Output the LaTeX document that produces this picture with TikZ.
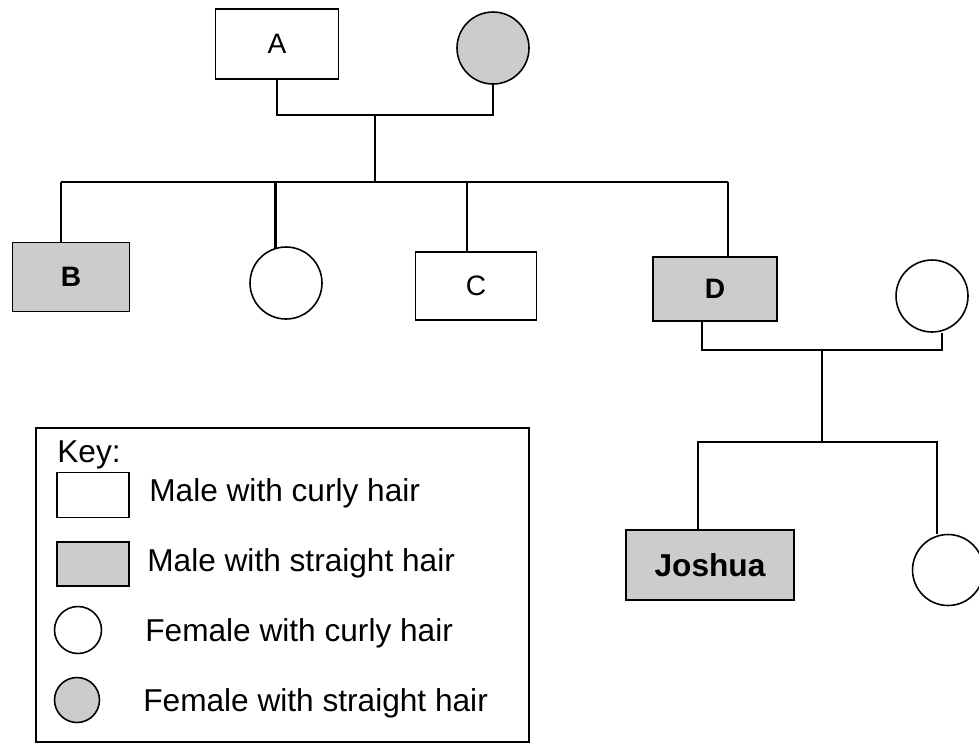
\documentclass[tikz,border=0pt]{standalone}
\usepackage{fontspec}
\setmainfont{Liberation Sans}
\usetikzlibrary{calc}
\tikzset{
  male/.style={rectangle,draw,line width=0.9pt,inner sep=0pt,font=\fontsize{16}{19}\selectfont},
  female/.style={circle,draw,line width=0.9pt,inner sep=0pt},
  shaded/.style={fill=black!20,font=\fontsize{16}{19}\selectfont\bfseries},
  link/.style={line width=1.5pt},
  keytxt/.style={anchor=west,inner sep=0pt,font=\fontsize{18}{21}\selectfont}
}

\begin{document}
\begin{tikzpicture}[x=0.02cm,y=-0.02cm]
\useasboundingbox (0,0) rectangle (979,751);
% first generation
\node[male,minimum width=2.46cm,minimum height=1.4cm] (A) at (277,44) {A};
\node[female,shaded,minimum size=1.44cm] (fA) at (493,48) {};
\coordinate (m1) at (375,115);
\coordinate (bL) at (61,182);
\coordinate (bR) at (728,182);
% children
\node[male,shaded,minimum width=2.34cm,minimum height=1.38cm] (B) at (71,277) {B};
\node[female,minimum size=1.44cm] (f2) at (286,283) {};
\node[male,minimum width=2.42cm,minimum height=1.36cm] (C) at (476,286) {C};
\node[male,shaded,minimum width=2.48cm,minimum height=1.28cm] (D) at (715,289) {D};
\node[female,minimum size=1.44cm] (f3) at (932,296) {};
\coordinate (m2) at (822,350);
\coordinate (m3) at (822,442);
% grandchildren
\node[male,shaded,minimum width=3.36cm,minimum height=1.4cm,font=\fontsize{18}{21}\selectfont\bfseries] (J) at (710,565) {Joshua};
\node[female,minimum size=1.42cm] (f4) at (948,570) {};

\draw[link] (A.south) |- (m1) -| (fA.south);
\draw[link] (m1) -- (m1 |- bL);
\draw[link] (bL) -- (bR);
\draw[link] (bL) -- (bL |- B.north);
\draw[link] (bR) -- (bR |- D.north);
\draw[link] (f2.107 |- bL) -- (f2.107);
\draw[link] ([xshift=-0.18cm]C.north |- bL) -- ([xshift=-0.18cm]C.north);
\draw[link] ([xshift=-0.26cm]D.south) |- (m2) -| ([xshift=0.2cm]f3.south);
\draw[link] (m2) -- (m3);
\draw[link] ([xshift=-0.24cm]J.north) |- (m3) -| ([xshift=-0.22cm]f4.north);

% key
\draw[line width=0.9pt] (36,428) rectangle (529,742);
\node[keytxt] (keyhd) at (57,455) {Key:};
\node[male,minimum width=1.44cm,minimum height=0.9cm] (k1) at (93,495) {};
\node[male,shaded,minimum width=1.44cm,minimum height=0.88cm] (k2) at (93,564) {};
\node[female,minimum width=0.94cm,minimum height=0.88cm] (k3) at (78,630) {};
\node[female,shaded,minimum size=0.9cm] (k4) at (77,700) {};
\node[keytxt] (t1) at (149,493) {Male with curly hair};
\node[keytxt] (t2) at (147,563) {Male with straight hair};
\node[keytxt] (t3) at (145,633) {Female with curly hair};
\node[keytxt] (t4) at (143,703) {Female with straight hair};
\end{tikzpicture}
\end{document}
